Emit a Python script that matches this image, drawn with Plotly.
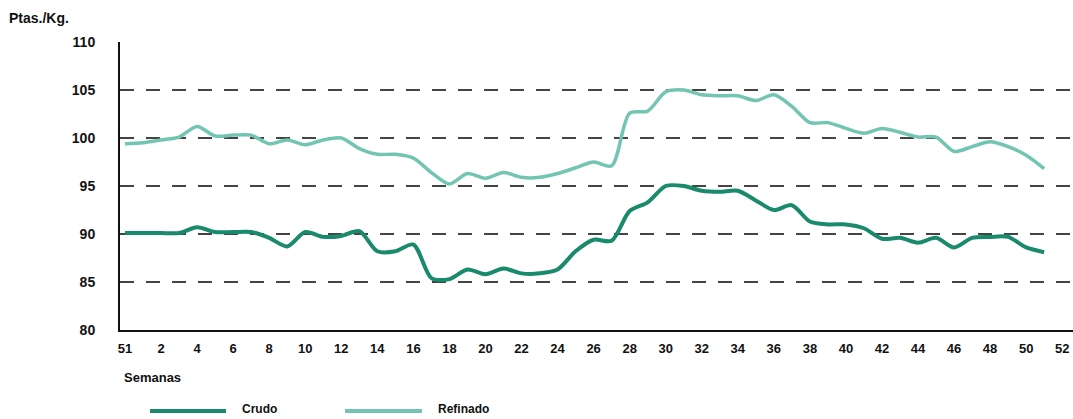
import plotly.graph_objects as go

# Data (position index 0..51; position 0 is week 51 of the prior year)
weeks = list(range(0, 52))
crudo = [90.1, 90.1, 90.1, 90.1, 90.7, 90.2, 90.2, 90.2, 89.6, 88.7,
         90.2, 89.7, 89.8, 90.3, 88.2, 88.2, 88.9, 85.4, 85.3, 86.3,
         85.8, 86.4, 85.9, 85.9, 86.3, 88.2, 89.4, 89.3, 92.4, 93.3,
         95.0, 95.0, 94.5, 94.4, 94.5, 93.5, 92.5, 93.0, 91.3, 91.0,
         91.0, 90.6, 89.5, 89.6, 89.1, 89.6, 88.6, 89.6, 89.7, 89.7,
         88.6, 88.1]
refinado = [99.4, 99.5, 99.8, 100.1, 101.2, 100.2, 100.3, 100.3, 99.4, 99.8,
            99.3, 99.8, 100.0, 98.9, 98.3, 98.3, 97.9, 96.4, 95.2, 96.3,
            95.8, 96.4, 95.9, 95.9, 96.3, 96.9, 97.5, 97.1, 102.6, 102.8,
            104.8, 105.0, 104.5, 104.4, 104.4, 103.9, 104.5, 103.3, 101.6, 101.6,
            101.0, 100.5, 101.0, 100.6, 100.1, 100.1, 98.6, 99.1, 99.6, 99.1,
            98.2, 96.8]
tick_vals = [0] + list(range(2, 53, 2))
tick_text = ["51"] + [str(v) for v in range(2, 53, 2)]
y_ticks = [80, 85, 90, 95, 100, 105, 110]

C_CRUDO = "#1a8a6c"
C_REF = "#72c5b3"
FONT = "Liberation Sans Narrow, Arial Narrow, Liberation Sans, sans-serif"

W, H = 1073, 419
L, T = 120, 42
PW, PH = W - L, 288

fig = go.Figure()
fig.add_trace(go.Scatter(x=weeks, y=refinado, name="Refinado", mode="lines",
                         line=dict(color=C_REF, width=3.5, shape="spline", smoothing=0.8),
                         showlegend=False))
fig.add_trace(go.Scatter(x=weeks, y=crudo, name="Crudo", mode="lines",
                         line=dict(color=C_CRUDO, width=4, shape="spline", smoothing=0.8),
                         showlegend=False))

fig.update_layout(
    width=W, height=H,
    margin=dict(l=L, r=0, t=T, b=H - T - PH, autoexpand=False),
    paper_bgcolor="white", plot_bgcolor="white",
    font=dict(family=FONT, color="#111"),
    xaxis=dict(range=[-0.28, 52.6], tickmode="array", tickvals=tick_vals, ticktext=tick_text,
               showgrid=False, zeroline=False, showline=True, linecolor="#111", linewidth=2,
               ticks="", tickfont=dict(size=13, family=FONT, weight="bold"), ticklabelstandoff=5),
    yaxis=dict(range=[80, 110], tickmode="array", tickvals=y_ticks,
               showgrid=True, gridcolor="#444", gridwidth=1.6, griddash="14px,12px",
               zeroline=False, showline=True, linecolor="#111", linewidth=2,
               ticks="", tickfont=dict(size=14, family=FONT, weight="bold"), ticklabelstandoff=20),
)


def px_x(x):
    return (x - L) / PW


def px_y(y):
    return (T + PH - y) / PH


fig.add_annotation(text="<b>Ptas./Kg.</b>", xref="paper", yref="paper", x=px_x(7), y=px_y(18),
                   xanchor="left", yanchor="middle", showarrow=False,
                   font=dict(size=14, family=FONT, color="#111"))
fig.add_annotation(text="<b>Semanas</b>", xref="paper", yref="paper", x=px_x(122), y=px_y(377),
                   xanchor="left", yanchor="middle", showarrow=False,
                   font=dict(size=13, family=FONT, color="#111"))

# manual legend
for x0, x1, col, label in [(150, 226, C_CRUDO, "Crudo"), (345, 422, C_REF, "Refinado")]:
    fig.add_shape(type="line", xref="paper", yref="paper",
                  x0=px_x(x0), x1=px_x(x1), y0=px_y(411), y1=px_y(411),
                  line=dict(color=col, width=4))
    fig.add_annotation(text="<b>" + label + "</b>", xref="paper", yref="paper",
                       x=px_x(x1 + 14), y=px_y(409), xanchor="left", yanchor="middle",
                       showarrow=False, font=dict(size=12, family=FONT, color="#111"))

fig.write_html("out.html", config={"displayModeBar": False},
               post_script="document.body.style.margin='0';document.body.style.overflow='hidden';")
